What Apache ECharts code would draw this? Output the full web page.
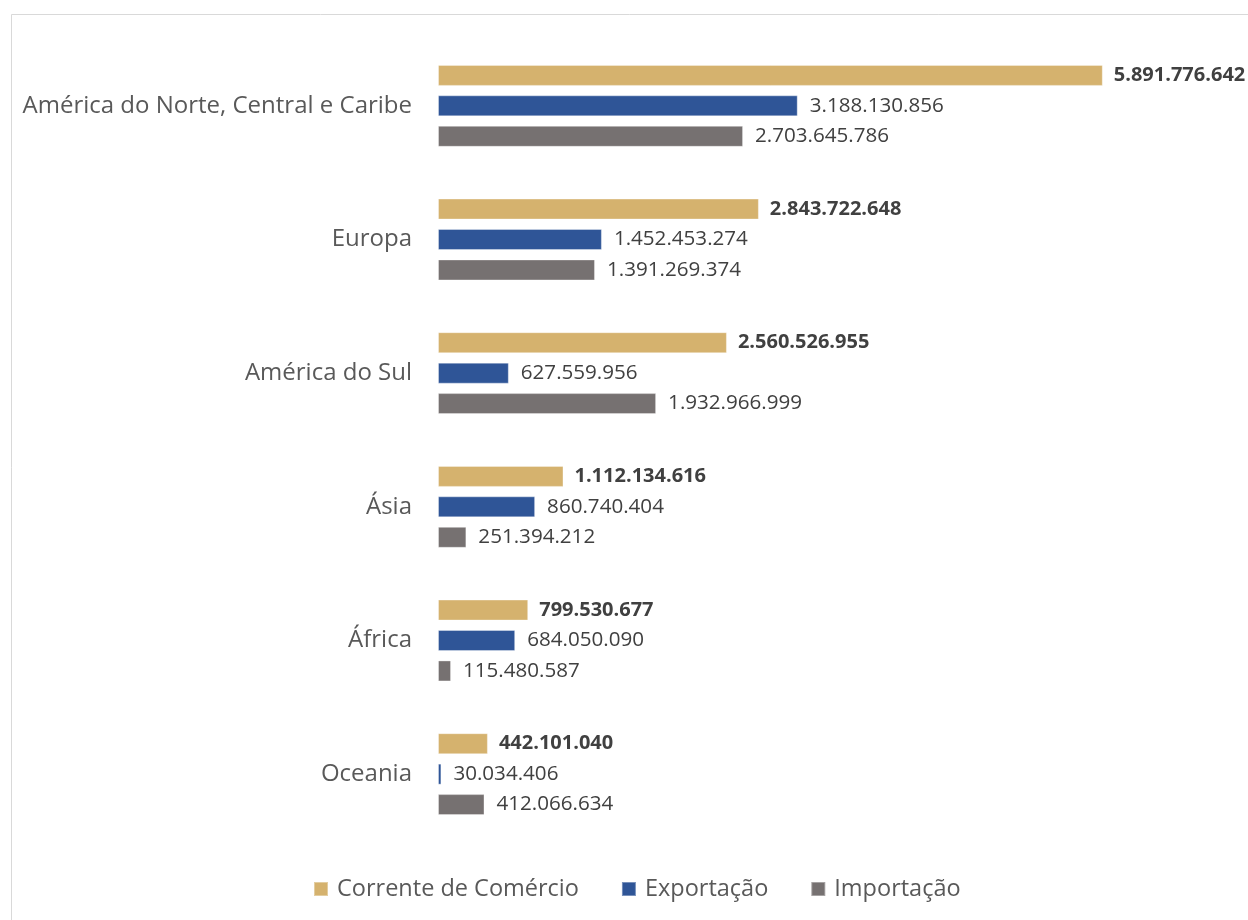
<!DOCTYPE html>
<html>
<head>
<meta charset="utf-8">
<script src="https://cdn.jsdelivr.net/npm/echarts@6/dist/echarts.min.js"></script>
<style>
  html, body { margin: 0; padding: 0; background: #fff; }
  #chart { width: 1248px; height: 920px; }
</style>
</head>
<body>
<div id="chart"></div>
<script>
const categories = [
  "América do Norte, Central e Caribe",
  "Europa",
  "América do Sul",
  "Ásia",
  "África",
  "Oceania"
];
const seriesNames = ["Corrente de Comércio", "Exportação", "Importação"];
const corrente = [5891776642, 2843722648, 2560526955, 1112134616, 799530677, 442101040];
const exportacao = [3188130856, 1452453274, 627559956, 860740404, 684050090, 30034406];
const importacao = [2703645786, 1391269374, 1932966999, 251394212, 115480587, 412066634];
const colors = ["#D5B26E", "#2F5597", "#767171"];

const FONT = "'Open Sans', 'Noto Sans', sans-serif";
function fmt(v) {
  return String(Math.round(v)).replace(/\B(?=(\d{3})+(?!\d))/g, ".");
}

const chart = echarts.init(document.getElementById('chart'), null, { renderer: 'canvas' });

function mkSeries(name, data, color, bold) {
  return {
    name: name,
    type: 'bar',
    data: data,
    barWidth: 21,
    barGap: '45%',
    itemStyle: { color: color, borderColor: 'rgba(255,255,255,0.35)', borderWidth: 1 },
    label: {
      show: true,
      position: 'right',
      distance: bold ? 11 : 12,
      fontFamily: FONT,
      fontSize: bold ? 20 : 20.6,
      fontWeight: bold ? 'bold' : 'normal',
      color: '#404040',
      formatter: p => fmt(p.value)
    },
    emphasis: { disabled: true },
    animation: false
  };
}

chart.setOption({
  animation: false,
  backgroundColor: '#fff',
  grid: { left: 438, right: 133, top: 39, bottom: 79, containLabel: false },
  xAxis: {
    type: 'value',
    min: 0,
    max: 6000000000,
    show: false
  },
  yAxis: {
    type: 'category',
    data: categories,
    inverse: true,
    axisLine: { show: false },
    axisTick: { show: false },
    splitLine: { show: false },
    axisLabel: {
      margin: 26,
      fontFamily: FONT,
      fontSize: 24,
      color: '#595959'
    }
  },
  legend: {
    data: seriesNames,
    bottom: 14,
    left: 308,
    itemWidth: 14,
    itemHeight: 14,
    itemGap: 42,
    icon: 'rect',
    textStyle: { fontFamily: FONT, fontSize: 23.5, color: '#595959', padding: [0, 0, 0, 4] },
    selectedMode: false
  },
  graphic: [{
    type: 'polyline',
    shape: { points: [[11.5, 920], [11.5, 14.5], [1248, 14.5]] },
    style: { stroke: '#D9D9D9', lineWidth: 1, fill: null },
    silent: true
  }],
  series: [
    mkSeries(seriesNames[0], corrente, colors[0], true),
    mkSeries(seriesNames[1], exportacao, colors[1], false),
    mkSeries(seriesNames[2], importacao, colors[2], false)
  ]
});
</script>
</body>
</html>
